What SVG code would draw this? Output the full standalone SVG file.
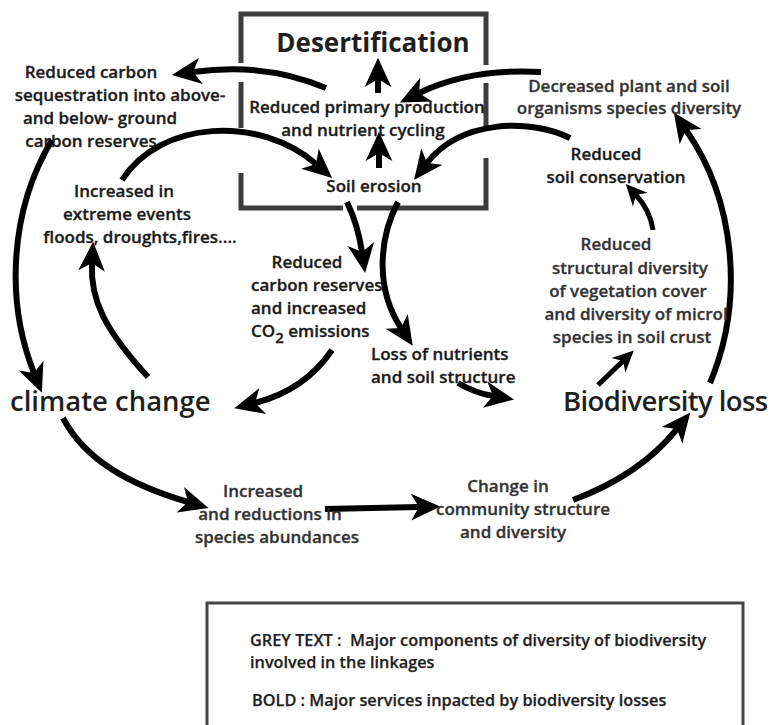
<svg xmlns="http://www.w3.org/2000/svg" width="776" height="725" viewBox="0 0 776 725">
  <defs>
    <style>
      text { font-family: "Open Sans", "Liberation Sans", sans-serif; font-weight: 600; white-space: pre; }
      .b { fill: #1a1a1a; stroke: #1a1a1a; stroke-width: 0.3px; font-size: 17px; }
      .g { fill: #333; stroke: #333; stroke-width: 0.3px; font-size: 17px; }
      .big { fill: #1f1f1f; font-size: 27.5px; }
      .leg { fill: #1f1f1f; stroke: #1f1f1f; stroke-width: 0.25px; font-size: 16.3px; }
      .m { text-anchor: middle; }
      .frame { fill: none; stroke: #3c3c3c; stroke-width: 5; stroke-linejoin: miter; }
      .arr { fill: none; stroke: #000; stroke-width: 6; }
      .arr-s { fill: none; stroke: #000; stroke-width: 5; }
    </style>
    <marker id="ah" markerUnits="userSpaceOnUse" markerWidth="40" markerHeight="40" viewBox="-10 -15 30 30" refX="0" refY="0" orient="auto" overflow="visible">
      <path d="M16,0 L-6,-10 L0,0 L-6,10 Z" fill="#000"/>
    </marker>
    <marker id="ahs" markerUnits="userSpaceOnUse" markerWidth="30" markerHeight="30" viewBox="-8 -12 24 24" refX="0" refY="0" orient="auto" overflow="visible">
      <path d="M12,0 L-5,-8 L0,0 L-5,8 Z" fill="#000"/>
    </marker>
  </defs>

  <rect width="776" height="725" fill="#fff"/>

  <!-- desertification frame (open where arrows cross) -->
  <g id="frame">
    <path class="frame" d="M241,63 L241,14 L486,14 L486,65"/>
    <path class="frame" d="M241,82 L241,128"/>
    <path class="frame" d="M486,83 L486,128"/>
    <path class="frame" d="M241,173 L241,208 L343,208"/>
    <path class="frame" d="M357,208 L486,208 L486,158"/>
  </g>

  <g id="connectors">
    <path class="arr" marker-end="url(#ah)" d="M326,88 Q265,62 193,72"/>
    <path class="arr" marker-end="url(#ah)" d="M378,93 L378,79"/>
    <path class="arr" marker-end="url(#ah)" d="M379,168 L379,153"/>
    <path class="arr" marker-end="url(#ah)" d="M541,72 Q470,68 419,93"/>
    <path class="arr" marker-end="url(#ah)" d="M570,138 C530,118 460,120 427,163"/>
    <path class="arr" marker-end="url(#ah)" d="M122,180 C160,120 260,115 316,164"/>
    <path class="arr" marker-end="url(#ah)" d="M52,140 C10,210 5,300 34,373"/>
    <path class="arr" marker-end="url(#ah)" d="M148,377 C105,330 90,300 92,263"/>
    <path class="arr" marker-end="url(#ah)" d="M347,202 Q358,225 362,252"/>
    <path class="arr" marker-end="url(#ah)" d="M398,202 C378,240 376,290 401,328"/>
    <path class="arr" marker-end="url(#ah)" d="M332,350 Q305,390 255,403"/>
    <path class="arr" marker-end="url(#ah)" d="M458,383 Q475,393 493,396"/>
    <path class="arr-s" marker-end="url(#ahs)" d="M598,385 L623,361"/>
    <path class="arr-s" marker-end="url(#ahs)" d="M653,230 Q650,210 636,195"/>
    <path class="arr" marker-end="url(#ah)" d="M710,383 C745,300 735,200 686,130"/>
    <path class="arr" marker-end="url(#ah)" d="M63,418 C85,460 130,485 188,502"/>
    <path class="arr" marker-end="url(#ah)" d="M325,509 L419,507"/>
    <path class="arr" marker-end="url(#ah)" d="M573,500 Q640,475 677,429"/>
  </g>

  <g id="desertification">
    <text class="big m" x="373" y="52" style="font-size:26px;font-weight:700">Desertification</text>
  </g>
  <g id="primary-production">
    <text class="b m" x="367" y="113">Reduced primary production</text>
    <text class="b m" x="363" y="136">and nutrient cycling</text>
  </g>
  <g id="soil-erosion">
    <text class="b m" x="374" y="192">Soil erosion</text>
  </g>
  <g id="carbon-sequestration">
    <text class="b m" x="91" y="78">Reduced carbon</text>
    <text class="b m" x="120" y="101">sequestration into above-</text>
    <text class="b m" x="100" y="124">and below- ground</text>
    <text class="b m" x="91" y="147">carbon reserves</text>
  </g>
  <g id="extreme-events">
    <text class="b m" x="124" y="197">Increased in</text>
    <text class="b m" x="127" y="220">extreme events</text>
    <text class="b m" x="140" y="243">floods, droughts,fires....</text>
  </g>
  <g id="species-diversity">
    <text class="g m" x="629" y="92">Decreased plant and soil</text>
    <text class="g m" x="629" y="114">organisms species diversity</text>
  </g>
  <g id="soil-conservation">
    <text class="b m" x="606" y="160">Reduced</text>
    <text class="b m" x="616" y="183">soil conservation</text>
  </g>
  <g id="structural-diversity">
    <text class="g m" x="616" y="250">Reduced</text>
    <text class="g m" x="630" y="274">structural diversity</text>
    <text class="g m" x="628" y="297">of vegetation cover</text>
    <text class="g m" x="636" y="320">and diversity of microl</text>
    <text class="g m" x="632" y="343">species in soil crust</text>
  </g>
  <g id="carbon-reserves">
    <text class="b m" x="307" y="268">Reduced</text>
    <text class="b" x="251" y="291">carbon reserves</text>
    <text class="b" x="251" y="314">and increased</text>
    <text class="b" x="251" y="337">CO<tspan dy="6" font-size="15">2</tspan><tspan dy="-6"> emissions</tspan></text>
  </g>
  <g id="nutrients">
    <text class="b" x="371" y="360">Loss of nutrients</text>
    <text class="b" x="371" y="383">and soil structure</text>
  </g>
  <g id="climate-change">
    <text class="big" x="10" y="411">climate change</text>
  </g>
  <g id="biodiversity-loss">
    <text class="big" x="563" y="411" style="letter-spacing:-0.6px">Biodiversity loss</text>
  </g>
  <g id="species-abundances">
    <text class="g m" x="263" y="497">Increased</text>
    <text class="g m" x="270" y="520">and reductions in</text>
    <text class="g m" x="277" y="543">species abundances</text>
  </g>
  <g id="community-structure">
    <text class="g m" x="508" y="492">Change in</text>
    <text class="g m" x="523" y="515">community structure</text>
    <text class="g m" x="513" y="538">and diversity</text>
  </g>

  <g id="legend">
    <rect x="207" y="603" width="536" height="140" fill="none" stroke="#444" stroke-width="3"/>
    <text class="leg" x="250" y="646">GREY TEXT :  Major components of diversity of biodiversity</text>
    <text class="leg" x="250" y="668">involved in the linkages</text>
    <text class="leg" x="252" y="706">BOLD : Major services inpacted by biodiversity losses</text>
  </g>
</svg>
